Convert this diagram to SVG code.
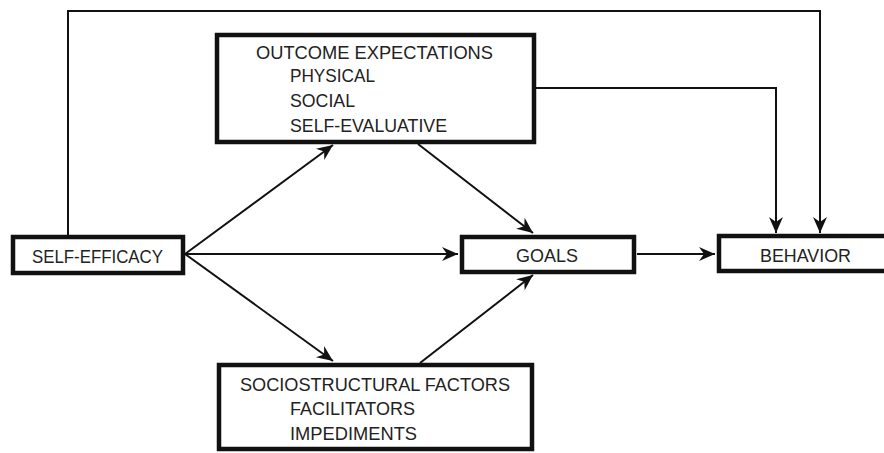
<svg xmlns="http://www.w3.org/2000/svg" width="884" height="453" viewBox="0 0 884 453">
  <style>
    .box { fill: #fff; stroke: #111; stroke-width: 4.5; }
    .lbl { font-family: "Liberation Sans", Arial, sans-serif; font-size: 18px; fill: #222; }
    .link { fill: none; stroke: #111; stroke-width: 2; }
  </style>
  <defs>
    <marker id="arrow" markerUnits="userSpaceOnUse" markerWidth="20" markerHeight="18" viewBox="-17 -9 19 18" refX="0" refY="0" orient="auto">
      <path d="M0,0 L-16,-7 L-11,0 L-16,7 Z" fill="#111"/>
    </marker>
  </defs>

  <rect width="884" height="453" fill="#fff"/>

  <!-- connectors -->
  <g id="connectors">
    <!-- self-efficacy straight to behavior over the top -->
    <path class="link" d="M68,236 V11 H820 V233" marker-end="url(#arrow)"/>
    <!-- outcome expectations to behavior -->
    <path class="link" d="M535,88 H776 V233" marker-end="url(#arrow)"/>
    <!-- self-efficacy fan-out -->
    <path class="link" d="M185,254 L333,145" marker-end="url(#arrow)"/>
    <path class="link" d="M185,254 H458" marker-end="url(#arrow)"/>
    <path class="link" d="M185,254 L333,361" marker-end="url(#arrow)"/>
    <!-- into goals -->
    <path class="link" d="M418,144 L533,233" marker-end="url(#arrow)"/>
    <path class="link" d="M420,363 L533,275" marker-end="url(#arrow)"/>
    <!-- goals to behavior -->
    <path class="link" d="M637,254 H715" marker-end="url(#arrow)"/>
  </g>

  <!-- nodes -->
  <g id="self-efficacy">
    <rect class="box" x="13" y="237" width="170" height="36"/>
    <text class="lbl" x="32" y="263" textLength="131" lengthAdjust="spacingAndGlyphs">SELF-EFFICACY</text>
  </g>

  <g id="outcome-expectations">
    <rect class="box" x="217" y="35" width="317" height="107"/>
    <text class="lbl" x="256" y="59" textLength="237" lengthAdjust="spacingAndGlyphs">OUTCOME EXPECTATIONS</text>
    <text class="lbl" x="290" y="82" textLength="85" lengthAdjust="spacingAndGlyphs">PHYSICAL</text>
    <text class="lbl" x="290" y="107" textLength="65" lengthAdjust="spacingAndGlyphs">SOCIAL</text>
    <text class="lbl" x="290" y="132" textLength="157" lengthAdjust="spacingAndGlyphs">SELF-EVALUATIVE</text>
  </g>

  <g id="goals">
    <rect class="box" x="462" y="237" width="172" height="35"/>
    <text class="lbl" x="516" y="262" textLength="62" lengthAdjust="spacingAndGlyphs">GOALS</text>
  </g>

  <g id="behavior">
    <rect class="box" x="719" y="236" width="172" height="35"/>
    <text class="lbl" x="760" y="262" textLength="91" lengthAdjust="spacingAndGlyphs">BEHAVIOR</text>
  </g>

  <g id="sociostructural-factors">
    <rect class="box" x="219" y="365" width="313" height="84"/>
    <text class="lbl" x="240" y="391" textLength="270" lengthAdjust="spacingAndGlyphs">SOCIOSTRUCTURAL FACTORS</text>
    <text class="lbl" x="290" y="415" textLength="125" lengthAdjust="spacingAndGlyphs">FACILITATORS</text>
    <text class="lbl" x="290" y="440" textLength="127" lengthAdjust="spacingAndGlyphs">IMPEDIMENTS</text>
  </g>
</svg>
